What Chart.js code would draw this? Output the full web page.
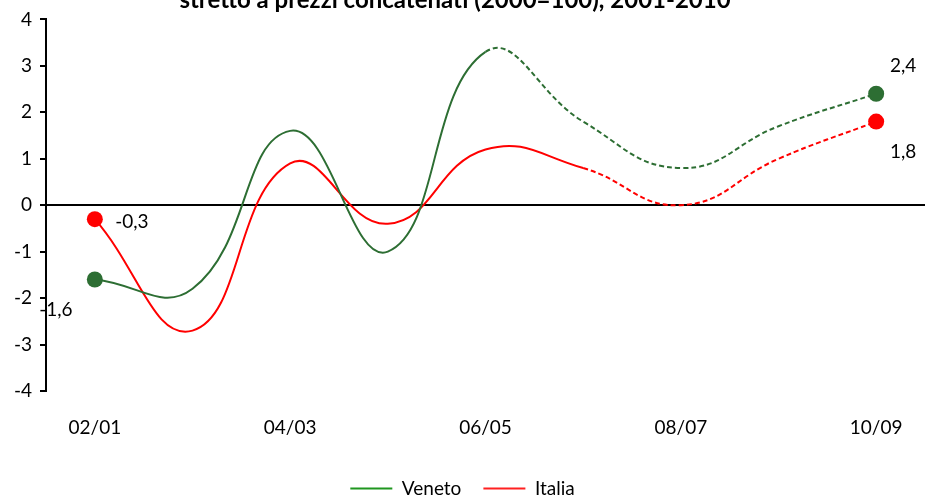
<!DOCTYPE html>
<html>
<head>
<meta charset="utf-8">
<script src="https://cdn.jsdelivr.net/npm/chart.js@4"></script>
<style>
  html, body { margin: 0; padding: 0; background: #fff; overflow: hidden; }
  #wrap { width: 925px; height: 508px; position: relative; }
</style>
</head>
<body>
<div id="wrap"><canvas id="chart"></canvas></div>
<script>
// ── Data ───────────────────────────────────────────
const periods = ['02/01', '03/02', '04/03', '05/04', '06/05', '07/06', '08/07', '09/08', '10/09'];
const veneto  = [-1.6, -1.8, 1.6, -1.0, 3.3, 1.8, 0.8, 1.7, 2.4];
const italia  = [-0.3, -2.7, 0.9, -0.4, 1.2, 0.8, 0.0, 1.0, 1.8];
// first index of the dashed (estimated) stretch
const venetoDashFrom = 4;
const italiaDashFrom = 5;
const yTicks = [-4, -3, -2, -1, 0, 1, 2, 3, 4];
const titleText = 'stretto a prezzi concatenati (2000=100), 2001-2010';

const FONT = 'Lato, "Open Sans", sans-serif';
const GREEN = '#2d6e33';
const RED = '#ff0000';

const fmt = v => v.toFixed(1).replace('.', ',');

// ── Plugins ────────────────────────────────────────
const titlePlugin = {
  id: 'cutTitle',
  afterDraw(chart) {
    const c = chart.ctx;
    c.save();
    c.font = 'bold 24px ' + FONT;
    c.fillStyle = '#000';
    c.textAlign = 'center';
    c.textBaseline = 'alphabetic';
    c.fillText(titleText, 455, 8);
    c.restore();
  }
};

// end labels: [dataset, index, dx, dy]
const endLabels = [
  [0, 0, -39, 30],
  [1, 0, 37, 3],
  [0, periods.length - 1, 27, -28],
  [1, periods.length - 1, 27, 30]
];

const labelPlugin = {
  id: 'endLabels',
  afterDatasetsDraw(chart) {
    const c = chart.ctx;
    c.save();
    c.font = '19px ' + FONT;
    c.fillStyle = '#000';
    c.textAlign = 'center';
    c.textBaseline = 'middle';
    endLabels.forEach(([ds, i, dx, dy]) => {
      const pt = chart.getDatasetMeta(ds).data[i];
      const val = chart.data.datasets[ds].data[i];
      c.fillText(fmt(val), pt.x + dx, pt.y + dy);
    });
    c.restore();
  }
};

const dashAfter = from => ({
  borderDash: ctx => ctx.p0DataIndex >= from ? [5, 3] : undefined
});

const endPoint = ctx => (ctx.dataIndex === 0 || ctx.dataIndex === periods.length - 1) ? 8 : 0;

new Chart(document.getElementById('chart'), {
  type: 'line',
  data: {
    labels: periods,
    datasets: [{
      label: 'Veneto',
      data: veneto,
      borderColor: GREEN,
      backgroundColor: GREEN,
      borderWidth: 2,
      tension: 0.45,
      pointRadius: endPoint,
      pointHoverRadius: endPoint,
      pointBorderWidth: 0,
      segment: dashAfter(venetoDashFrom)
    }, {
      label: 'Italia',
      data: italia,
      borderColor: RED,
      backgroundColor: RED,
      borderWidth: 2,
      tension: 0.45,
      pointRadius: endPoint,
      pointHoverRadius: endPoint,
      pointBorderWidth: 0,
      segment: dashAfter(italiaDashFrom)
    }]
  },
  options: {
    responsive: true,
    maintainAspectRatio: false,
    animation: false,
    layout: { autoPadding: false, padding: { top: 17, right: 0, left: 0, bottom: 0 } },
    plugins: {
      title: { display: false },
      tooltip: { enabled: false },
      legend: {
        position: 'bottom',
        labels: {
          font: { family: FONT, size: 19 },
          color: '#000',
          usePointStyle: true,
          pointStyleWidth: 42,
          boxHeight: 2,
          padding: 22,
          generateLabels: () => [
            { text: 'Veneto', pointStyle: 'line', strokeStyle: '#1f961f', fillStyle: '#1f961f', lineWidth: 2, datasetIndex: 0 },
            { text: 'Italia', pointStyle: 'line', strokeStyle: '#ff2020', fillStyle: '#ff2020', lineWidth: 2, datasetIndex: 1 }
          ]
        }
      }
    },
    scales: {
      x: {
        offset: true,
        border: { display: false },
        grid: { display: false, drawTicks: false },
        ticks: {
          autoSkip: false,
          maxRotation: 0,
          padding: 25,
          color: '#000',
          font: { family: FONT, size: 19 },
          callback: (v, i) => i % 2 === 0 ? periods[i] : ''
        },
        afterFit: s => { s.height = 66; s.paddingLeft = 0; s.paddingRight = 0; }
      },
      y: {
        min: -4,
        max: 4,
        afterBuildTicks: s => { s.ticks = yTicks.map(v => ({ value: v })); },
        border: { display: true, color: '#000', width: 2 },
        grid: {
          color: ctx => ctx.tick && ctx.tick.value === 0 ? '#000' : 'rgba(0,0,0,0)',
          lineWidth: 2,
          tickColor: '#000',
          tickLength: 6
        },
        ticks: {
          color: '#000',
          padding: 8,
          font: { family: FONT, size: 19 },
          callback: v => String(v)
        },
        afterFit: s => { s.width = 46; }
      }
    }
  },
  plugins: [titlePlugin, labelPlugin]
});
</script>
</body>
</html>
